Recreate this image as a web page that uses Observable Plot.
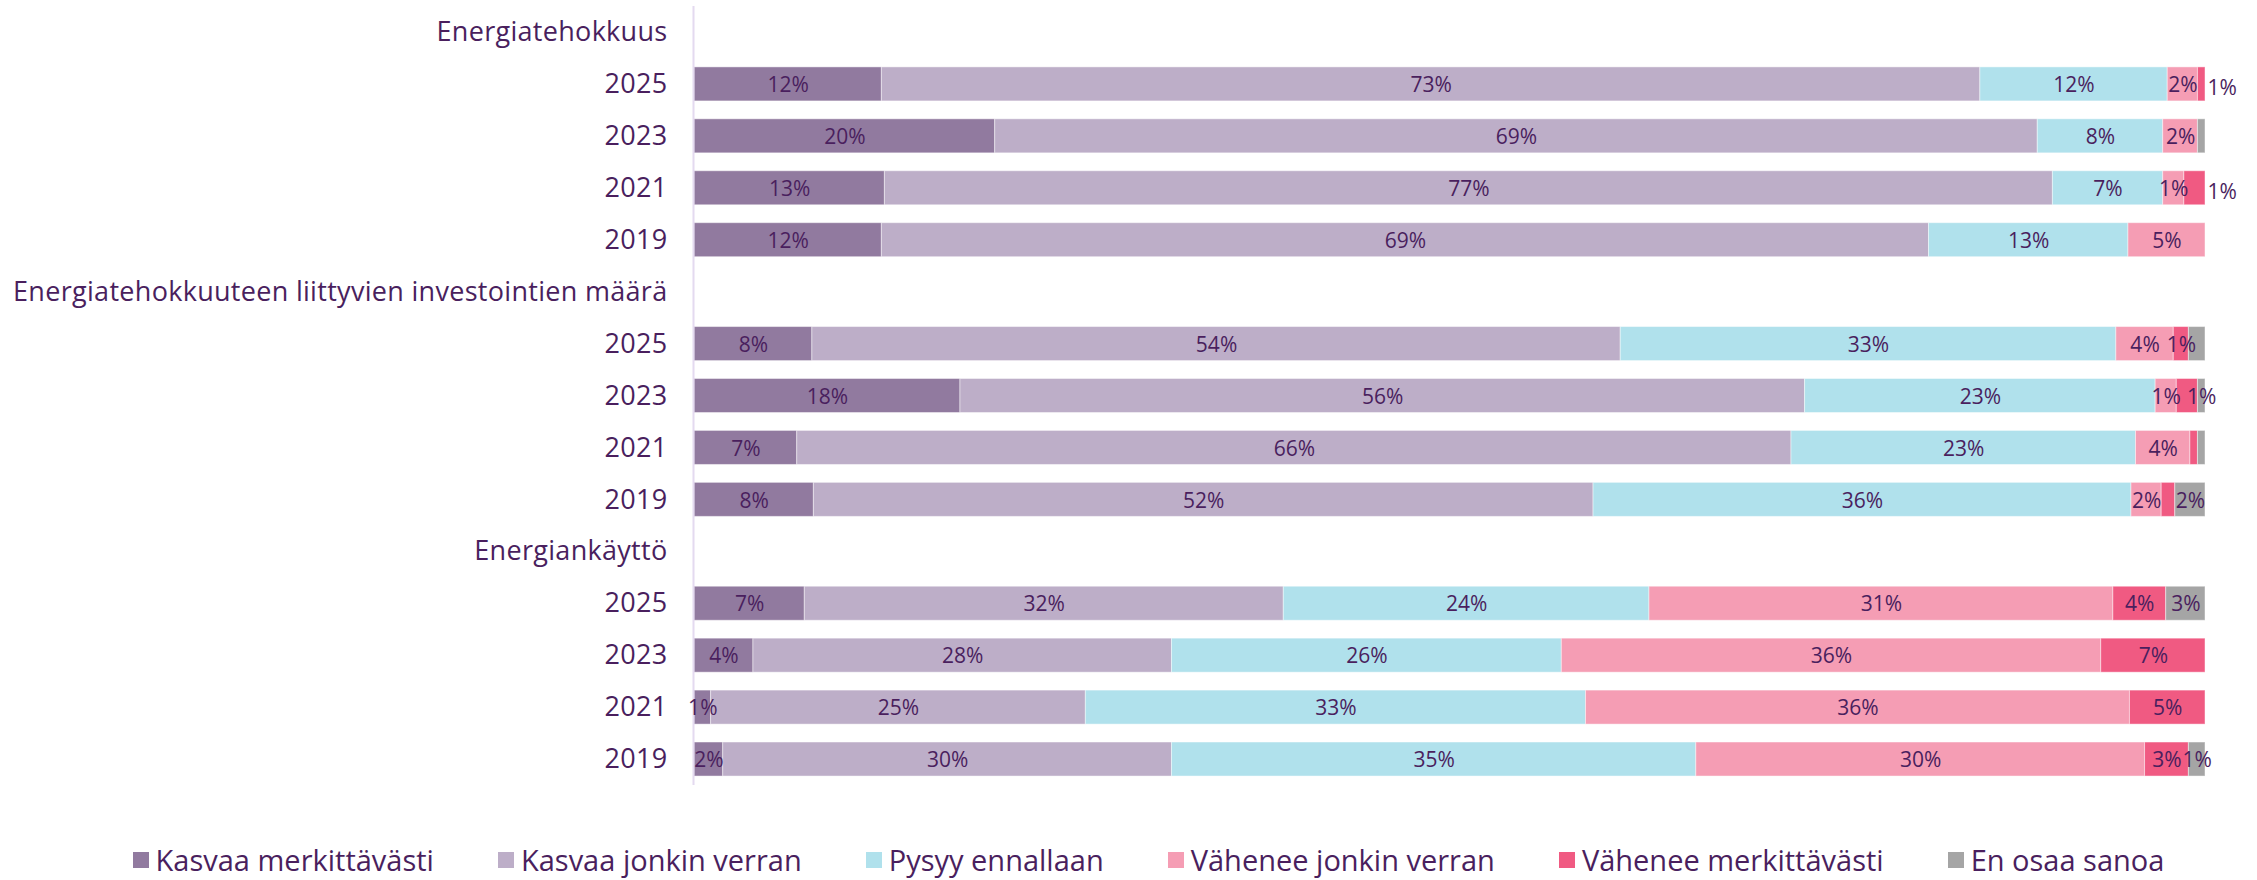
<!DOCTYPE html>
<html><head><meta charset="utf-8">
<script src="https://cdn.jsdelivr.net/npm/d3@7"></script>
<script src="https://cdn.jsdelivr.net/npm/@observablehq/plot@0.6"></script>
<style>
body{margin:0;background:#fff;font-family:"Open Sans",sans-serif;color:#4a1f5e;overflow:hidden;}
#chart{position:absolute;left:0;top:0;}
#chart svg g[aria-label="y-axis tick label"] text{letter-spacing:0.3px;}
#legend{position:absolute;top:842px;left:0;width:2217px;padding-left:40px;display:flex;justify-content:center;gap:64px;font-size:29px;line-height:36px;}
.item{display:flex;align-items:center;}
.sw{width:16px;height:16px;margin-right:7px;}
</style></head><body>
<div id="chart"></div><div id="legend"></div>
<script>
const series = ["Kasvaa merkittävästi","Kasvaa jonkin verran","Pysyy ennallaan","Vähenee jonkin verran","Vähenee merkittävästi","En osaa sanoa"];
const colors = ["#917a9f","#bdaec8","#b0e1ec","#f59db4","#f05a82","#a5a5a5"];
const groups = ["Energiatehokkuus","Energiatehokkuuteen liittyvien investointien määrä","Energiankäyttö"];
const years = ["2025","2023","2021","2019"];

// values per year (2025, 2023, 2021, 2019), in series order
const energiatehokkuus = [
  [12.4,72.7,12.4,2.0,0.5,0],
  [19.9,69.0,8.3,2.3,0,0.5],
  [12.6,77.3,7.3,1.4,1.4,0],
  [12.4,69.3,13.2,5.1,0,0]
];
const energiatehokkuusLabels = [
  [12,73,12,2,1,null],
  [20,69,8,2,null,null],
  [13,77,7,1,1,null],
  [12,69,13,5,null,null]
];
const investoinnit = [
  [7.8,53.5,32.8,3.8,1.0,1.1],
  [17.6,55.9,23.2,1.4,1.4,0.5],
  [6.8,65.8,22.8,3.6,0.5,0.5],
  [7.9,51.6,35.6,2.0,0.9,2.0]
];
const investoinnitLabels = [
  [8,54,33,4,1,null],
  [18,56,23,1,null,1],
  [7,66,23,4,null,null],
  [8,52,36,2,null,2]
];
const energiankaytto = [
  [7.3,31.7,24.2,30.7,3.5,2.6],
  [3.9,27.7,25.8,35.7,6.9,0],
  [1.1,24.8,33.1,36.0,5.0,0],
  [1.9,29.7,34.7,29.7,2.9,1.1]
];
const energiankayttoLabels = [
  [7,32,24,31,4,3],
  [4,28,26,36,7,null],
  [1,25,33,36,5,null],
  [2,30,35,30,3,1]
];
// labels drawn just past the end of the bar
const outsideLabels = ["Energiatehokkuus|2025|Vähenee merkittävästi","Energiatehokkuus|2021|Vähenee merkittävästi"];

const TEXT = "#4a1f5e";
const FONT = "'Open Sans', sans-serif";

const groupValues = [energiatehokkuus, investoinnit, energiankaytto];
const groupLabels = [energiatehokkuusLabels, investoinnitLabels, energiankayttoLabels];

const rowKeys = [];
const table = [];
groups.forEach((g, gi) => {
  rowKeys.push(g);
  years.forEach((y, yi) => {
    const row = g + "|" + y;
    rowKeys.push(row);
    series.forEach((s, si) => {
      const key = row + "|" + s;
      table.push({row, series: s, value: groupValues[gi][yi][si], label: groupLabels[gi][yi][si], outside: outsideLabels.includes(key)});
    });
  });
});

const plot = Plot.plot({
  width: 2257, height: 800,
  marginLeft: 694, marginRight: 52, marginTop: 6, marginBottom: 15,
  style: {fontFamily: FONT, color: TEXT, fontSize: "27px", background: "transparent"},
  x: {domain: [0, 1], axis: null},
  y: {domain: rowKeys, round: false, paddingInner: 0.345, paddingOuter: 0.1725, align: 0.5, label: null, tickSize: 0, tickPadding: 27,
      tickFormat: k => k.includes("|") ? k.split("|")[1] : k},
  color: {domain: series, range: colors},
  marks: [
    Plot.barX(table, Plot.stackX({x: "value", y: "row", fill: "series", order: series, offset: "normalize",
      stroke: "white", strokeOpacity: 0.45, strokeWidth: 1})),
    Plot.ruleX([0], {stroke: "#e4daf0", strokeWidth: 2, dx: -1}),
    Plot.text(table, Plot.stackX({x: "value", y: "row", z: "series", order: series, offset: "normalize",
      text: d => (d.label == null || d.outside) ? "" : d.label + "%", fill: TEXT, fontSize: 21, dy: 1})),
    Plot.text(table.filter(d => d.outside), {x: () => 1, y: "row", text: d => d.label + "%", fill: TEXT, fontSize: 21,
      textAnchor: "start", dx: 2, dy: 4})
  ]
});
document.getElementById("chart").appendChild(plot);

const legend = document.getElementById("legend");
series.forEach((s, i) => {
  const it = document.createElement("div"); it.className = "item";
  const sw = document.createElement("span"); sw.className = "sw"; sw.style.background = colors[i];
  const t = document.createElement("span"); t.textContent = s;
  it.appendChild(sw); it.appendChild(t); legend.appendChild(it);
});
</script>
</body></html>
